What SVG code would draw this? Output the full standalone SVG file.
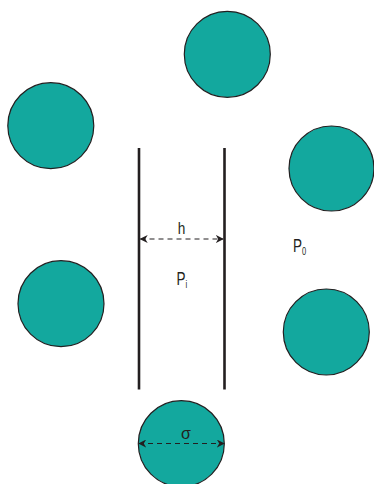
<svg xmlns="http://www.w3.org/2000/svg" width="374" height="484" viewBox="0 0 374 484">
<style>
.p{fill:#13a89e;stroke:#231f20;stroke-width:1.2}
.w{stroke:#231f20;stroke-width:2.6;fill:none}
.d{stroke:#231f20;stroke-width:1.2;stroke-dasharray:5 4;fill:none}
.t{font-family:"Liberation Sans","DejaVu Sans",sans-serif;fill:#231f20;font-size:16px}
.b{font-size:18px}
.s{font-size:10px}
</style>
<defs>
<marker id="ah" viewBox="0 0 10 10" refX="9" refY="5" markerWidth="8" markerHeight="8" markerUnits="userSpaceOnUse" orient="auto-start-reverse">
<path d="M0,0 L10,5 L0,10 L3,5 z" fill="#231f20"/>
</marker>
</defs>
<rect width="374" height="484" fill="#fff"/>
<g id="particle-top"><circle class="p" cx="227.3" cy="54.3" r="43"/></g>
<g id="particle-left-top"><circle class="p" cx="50.8" cy="125.7" r="43"/></g>
<g id="particle-right-top"><circle class="p" cx="331.5" cy="168.5" r="42.5"/></g>
<g id="particle-left"><circle class="p" cx="61" cy="303.7" r="43"/></g>
<g id="particle-right"><circle class="p" cx="326.3" cy="332" r="43"/></g>
<g id="particle-bottom"><circle class="p" cx="181.3" cy="443.7" r="43"/></g>
<g id="walls">
<line class="w" x1="139" y1="148" x2="139" y2="389.5"/>
<line class="w" x1="224.5" y1="148" x2="224.5" y2="389.5"/>
</g>
<g id="connectors">
<line class="d" x1="140.5" y1="239" x2="223" y2="239" marker-start="url(#ah)" marker-end="url(#ah)"/>
<line class="d" x1="139" y1="443.5" x2="224" y2="443.5" marker-start="url(#ah)" marker-end="url(#ah)"/>
</g>
<g id="labels">
<text class="t" x="181.5" y="234" text-anchor="middle" transform="translate(181.5,0) scale(0.85,1) translate(-181.5,0)">h</text>
<text class="t b" transform="translate(176.5,285) scale(0.75,1)">P<tspan class="s" dy="3">i</tspan></text>
<text class="t b" transform="translate(293,251.5) scale(0.75,1)">P<tspan class="s" dy="3">0</tspan></text>
<text class="t" x="186" y="439" text-anchor="middle">σ</text>
</g>
</svg>
